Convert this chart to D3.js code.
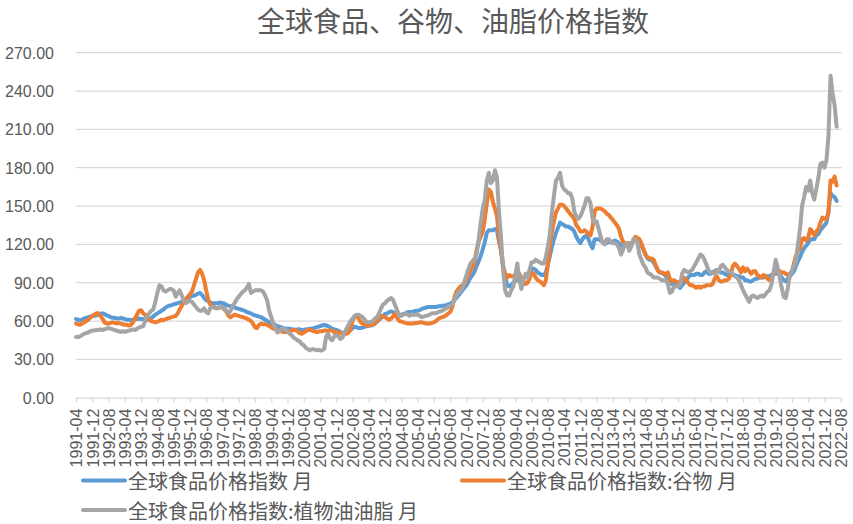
<!DOCTYPE html>
<html><head><meta charset="utf-8">
<script src="https://cdn.jsdelivr.net/npm/d3@7"></script>
<style>body{margin:0;background:#fff}svg{display:block}</style>
</head><body>
<svg id="chart" width="853" height="524"></svg>
<script>
// ---- data ----
const chartTitle = "全球食品、谷物、油脂价格指数";
const seriesNames = ["全球食品价格指数 月", "全球食品价格指数:谷物 月", "全球食品价格指数:植物油油脂 月"];
const seriesColors = ["#5B9BD5", "#ED7D31", "#A5A5A5"];
const startYear = 1991, startMonth = 4, monthCount = 377; // 1991-04 .. 2022-08
const yTicks = [0, 30, 60, 90, 120, 150, 180, 210, 240, 270];
const labelEvery = 8;

// 全球食品价格指数 (1991-04 .. 2022-06)
const food = [
  61.5,61,60.5,61,62,62.5,63,63.5,64,
  64,64.5,65,65.5,66,65.5,64.5,64,63,62.5,62.5,62,
  62,62.5,62,61.5,61,61,60.5,61,61.5,61.5,62,61.5,
  61.5,61,61,61.5,62.5,63.5,65,66,67,68,69,70.5,
  71.5,72,72.5,73,73.5,74,74.5,75,76,77,78,79,
  79.5,80,80.5,81.5,82,80.5,78,76.5,75.5,74.5,74,74,
  74,74,74.5,74,73.5,72.5,72,71.5,71,70.5,70,69.5,
  69,68.5,68,67,66.5,66,65,64.5,64,63.5,63,62,
  61,60,59,58,57.5,57,56,55.5,55,54.5,54,54,
  54,53.5,53.5,53,53.5,53.5,53,53,53.5,53.5,54,54,
  54.5,55,55.5,56,56.5,57,56.5,56,55,54,53.5,53,
  52.5,51.5,50.5,50.5,51,51.5,53,54.5,55.5,55,54.5,54.5,
  55,55.5,56,56.5,56.5,57,58,59.5,61,62.5,64,65.5,
  66,67,67.5,67,66,64.5,64,65,65.5,66,67,67,
  67,67.5,68,68,68.5,69.5,70,70.5,71,71,71,71,
  71,71.5,71.5,72,72,72.5,73,73.5,74.5,76,78,80,
  82,84,86,88,91,94,96,99,103,107,111,116,
  122,129,131,131,131,132,131,122,115,104,95,88,
  87,88,90,91,93,93.5,93,94,95,96,99,101,
  101,100,98,97,96,96,98,104,111,118,124,129,
  133,137,136,135,134,134,133,132,130,126,123,121,
  124,126,127,124,120,117,124,124,124,123,122,121,
  121,122,122,122,123,122,121,119,119,119,120,120,
  120,122,125,124,122,119,116,112,109,108,108,106,
  103,100,98,98,97,95,94,91,89,91,89,88,
  86,88,90,92,94,96,96,96,97,97,96,96,
  98,99,97,97,98,99,100,99,98,98,97,96,
  97,97,96,96,95,95,94,94,92,92,91,91,
  92,93,93,94,94,94,95,95,95,96,97,97,
  98,96,94,92,91,93,95,97,99,103,107,110,
  114,117,119,121,124,124,124,127,128,131,133,135,
  137,146,160,158,157,154
];

// 全球食品价格指数:谷物
const cereals = [
  58,57.5,57,58,59,60,61,62.5,64,
  65,66,66,64,62,59,58,58,58.5,59,58.5,58,
  58.5,58,57.5,57,57,56.5,57,59,62,65,68,68.5,
  66,65,63,61,60,59.5,59,59.5,60,61,60.5,61.5,
  62,62.5,63,63.5,64,66,69,72,75,77,79,81,
  83,88,93,98,100,97,92,84,77,73,71.5,70.5,
  70,70.5,71,70.5,69,67,64,63,64,65,64.5,64,
  63.5,63,62.5,62,61,60,58,55,54.5,57,58,57.5,
  57.5,57,56,55,54,53.5,53,52.5,52,51.5,51.5,51.5,
  52,52.5,53,53,52,50.5,50,51,52,53,53,52.5,
  52,51.5,51.5,52,52,52.5,52.5,52,53,52.5,51,51.5,
  51,50.5,50,50,50,51,54,60,63.5,64,62,59,
  58,57,56.5,56.5,57,57.5,58,60,62,64,63.5,63,
  62,61,62,64,66,62,60,59.5,59,58.5,58,58,
  58,58,58.5,58.5,59,59,58.5,58,58,58,58.5,59,
  60,61.5,62.5,63,63.5,64.5,66,67,71,78,83,85,
  87,88,89,92,96,100,102,106,116,122,126,130,
  140,152,163,161,153,148,142,126,115,102,97,94,
  96,95,95,96,97,97,93,91,89,90,93,98,
  97,94,92,91,90,88,92,104,118,130,138,145,
  148,151,151,150,148,146,144,142,140,135,133,130,
  130,131,130,128,127,134,146,148,148,148,147,146,
  144,143,141,139,137,135,132,126,122,121,120,121,
  120,122,126,125,124,121,116,112,110,109,109,108,
  104,100,98,98,97,97,98,93,91,92,91,90,
  91,92,94,92,90,88,88,87,86,87,86,87,
  87,88,88,88,89,93,95,92,91,91,92,92,
  93,97,103,105,103,101,98,102,99,101,99,97,
  99,99,96,95,94,96,95,93,92,94,97,99,
  100,99,98,98,97,96,97,99,105,111,115,117,
  124,125,123,125,132,130,127,130,132,137,141,140,
  140,145,170,169,173,166
];

// 全球食品价格指数:植物油油脂
const vegOil = [
  47.5,47.5,48,49,50,50.5,51,52,52.5,
  52.5,53,53,53.5,53,53.5,54,54.5,54,53.5,53,52.5,
  52,51.5,52,51.5,52,52.5,53,53.5,53,54,55,55.5,
  56,60,64,66,68,69,75,82,88,87,84,83,
  84,85,85,84,79,82,84,80,76,74,75,76,
  75,73,71,69,68,68,70,67,66,70,71,71,
  70,70,71,71,70,68,66,68,72,74,77,79,
  81,83,84,86,89,82,83,84,84,84,84,83,
  80,76,68,63,58,55,51,52,54,54,53,52,
  50,49,47,46,45,44,42,41,39,38,37,38,
  38,37,37.5,37,37,38,48,50,46,45,48,49,
  48,46,47,51,54,57,60,62,64,65,65,64,
  63,61,59,59,59,60,62,63,66,70,73,74,
  76,77,78,76,72,68,64,64,65,66,65,64,
  65,65,65,65,64,63,63.5,64,64.5,65,66,66,
  66,67,67.5,68,69,70,71,72,73,76,80,83,
  83,86,91,96,101,105,107,109,112,124,137,148,
  155,170,176,168,170,178,172,145,125,100,84,80,
  80,84,87,96,105,92,85,92,97,94,100,106,
  106,108,107,106,105,105,110,118,128,145,158,170,
  172,176,166,163,162,160,160,156,146,142,140,142,
  146,150,156,156,152,140,137,138,132,126,121,120,
  124,124,122,121,121,120,117,112,116,120,121,115,
  118,124,124,122,112,108,104,102,98,97,96,94,
  94,94,93,92,92,92,89,82,83,87,87,87,
  88,97,100,99,98,99,100,103,106,109,112,111,
  108,104,100,98,98,97,100,98,103,104,102,100,
  99,98,97,95,94,92,88,84,81,78,75,79,
  80,79,78,79,80,79,81,83,84,89,98,108,
  102,94,86,79,78,86,96,99,103,107,120,132,
  150,157,165,162,170,160,155,163,172,183,184,180,
  186,205,252,238,229,212
];

// ---- build ----
const categories = [];
for (let i = 0; i < monthCount; i++) {
  const t = startMonth - 1 + i;
  const yy = startYear + Math.floor(t / 12), mm = t % 12 + 1;
  categories.push(yy + "-" + String(mm).padStart(2, "0"));
}
const tickLabels = categories.filter((d, i) => i % labelEvery === 0);
const series = [food, cereals, vegOil];

const svg = d3.select("#chart");
const plotLeft = 76, plotRight = 840.7, plotTop = 52.7, plotBottom = 397.7;
const x = d3.scalePoint().domain(categories).range([plotLeft, plotRight]);
const y = d3.scaleLinear().domain([0, 270]).range([plotBottom, plotTop]);
const numFont = "'Liberation Sans', Arial, sans-serif";
const cjkFont = "'Noto Sans CJK SC', sans-serif";

// title
svg.append("text").attr("x", 453).attr("y", 20)
  .attr("text-anchor", "middle").attr("dominant-baseline", "central")
  .style("font-family", cjkFont).style("font-size", "28px").attr("fill", "#595959")
  .text(chartTitle);

// gridlines
svg.append("g").selectAll("line").data(yTicks.filter(d => d > 0)).join("line")
  .attr("x1", plotLeft).attr("x2", plotRight + 1).attr("y1", d => y(d)).attr("y2", d => y(d))
  .attr("stroke", "#d9d9d9").attr("stroke-width", 1.2);

// y axis labels
const yAxis = d3.axisLeft(y).tickValues(yTicks).tickFormat(d3.format(".2f")).tickSize(0).tickPadding(0);
const gy = svg.append("g").attr("transform", "translate(54,0)").call(yAxis);
gy.select(".domain").remove();
gy.selectAll("text").attr("x", 0).attr("dy", "0.35em")
  .style("font-family", numFont).style("font-size", "16px").attr("fill", "#595959");

// x axis
const xAxis = d3.axisBottom(x).tickValues(tickLabels).tickSize(5).tickSizeOuter(0);
const gx = svg.append("g").attr("transform", `translate(0,${plotBottom})`).call(xAxis);
gx.select(".domain").attr("stroke", "#d9d9d9").attr("stroke-width", 1.2);
gx.selectAll(".tick line").attr("stroke", "#d9d9d9").attr("stroke-width", 1.2);
gx.selectAll("text")
  .attr("transform", "rotate(-90)").attr("text-anchor", "end")
  .attr("x", -11).attr("y", 0).attr("dy", "0.36em")
  .style("font-family", numFont).style("font-size", "16px").attr("fill", "#595959");

// lines
const line = d3.line().defined(d => d != null).x((d, i) => x(categories[i])).y(d => y(d));
series.forEach((s, k) => {
  svg.append("path").datum(s).attr("d", line)
    .attr("fill", "none").attr("stroke", seriesColors[k]).attr("stroke-width", 4)
    .attr("stroke-linejoin", "round").attr("stroke-linecap", "round");
});

// legend
const legendItems = [
  {k: 0, x: 83, y: 480.5},
  {k: 1, x: 462, y: 480.5},
  {k: 2, x: 83, y: 510}
];
const lg = svg.append("g");
legendItems.forEach(it => {
  lg.append("line").attr("x1", it.x).attr("x2", it.x + 42).attr("y1", it.y).attr("y2", it.y)
    .attr("stroke", seriesColors[it.k]).attr("stroke-width", 4).attr("stroke-linecap", "round");
  lg.append("text").attr("x", it.x + 45).attr("y", it.y).attr("dominant-baseline", "central")
    .style("font-family", cjkFont).style("font-size", "20px").attr("fill", "#595959")
    .text(seriesNames[it.k]);
});
</script>
</body></html>
